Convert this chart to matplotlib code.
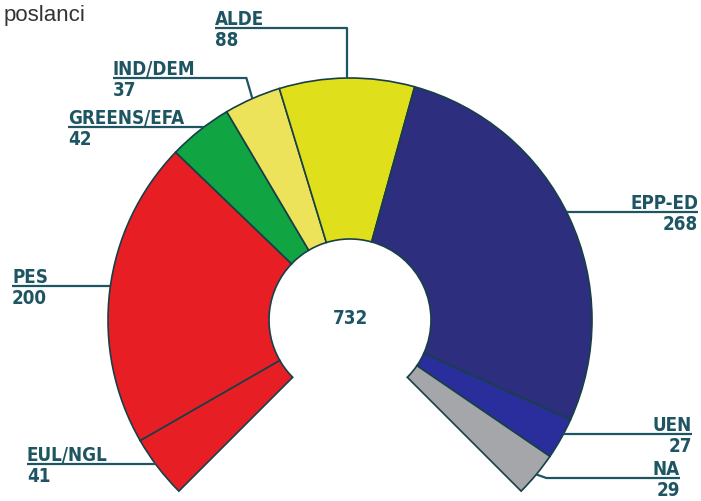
import numpy as np
import matplotlib.pyplot as plt
from matplotlib.patches import Wedge

# seats per group, clockwise from the bottom-left end of the arc
groups = ['EUL/NGL', 'PES', 'GREENS/EFA', 'IND/DEM', 'ALDE', 'EPP-ED', 'UEN', 'NA']
seats = [41, 200, 42, 37, 88, 268, 27, 29]
colors = ['#e81e25', '#e81e25', '#10a443', '#ece35a', '#dfe01b', '#2e2e7f', '#2a2e9c', '#a4a6a9']
title = 'poslanci'

W, H = 701, 502
cx, cy = 350, H - 321
r_out, r_in = 242, 81
start, span = 225, 270

txt_col = '#1e5563'
edge_col = '#173f48'

# label layout in pixels from the top: text x, line y, side, route, elbow dx
label_pos = {
    'EUL/NGL': (27, 465, 'left', 'h', 0),
    'PES': (12, 287, 'left', 'h', 0),
    'GREENS/EFA': (68, 128, 'left', 'h', 0),
    'IND/DEM': (113, 79, 'left', 'd', -6),
    'ALDE': (215, 29, 'left', 'd', 0),
    'EPP-ED': (698, 213, 'right', 'h', 0),
    'UEN': (692, 435, 'right', 'h', 0),
    'NA': (680, 479, 'right', 'd', 10),
}

fig = plt.figure(figsize=(7.01, 5.02), dpi=100)
ax = fig.add_axes([0, 0, 1, 1])
ax.set_xlim(0, W)
ax.set_ylim(0, H)
ax.set_aspect('equal')
ax.axis('off')

total = sum(seats)
cum = np.concatenate([[0], np.cumsum(seats)])
font = dict(family='DejaVu Sans', fontweight='bold', fontstretch='condensed', fontsize=13.5, color=txt_col)

for i, g in enumerate(groups):
    a1 = start - span * cum[i] / total
    a2 = start - span * cum[i + 1] / total
    ax.add_patch(Wedge((cx, cy), r_out, a2, a1, width=r_out - r_in,
                       facecolor=colors[i], edgecolor=edge_col, lw=1.2))

    tx, ly, side, route, edx = label_pos[g]
    y = H - ly
    if route == 'h':
        dx = np.sqrt(r_out ** 2 - (y - cy) ** 2)
        px = cx - dx if side == 'left' else cx + dx
        xs, ys = [px, tx], [y, y]
    else:
        mid = np.radians((a1 + a2) / 2)
        px, py = cx + r_out * np.cos(mid), cy + r_out * np.sin(mid)
        xs, ys = [px, px + edx, tx], [py, y, y]
    ax.plot(xs, ys, color=txt_col, lw=1.6, solid_capstyle='butt')

    ha = 'left' if side == 'left' else 'right'
    ax.text(tx, y + 4, g, ha=ha, va='baseline', **font)
    ax.text(tx, y - 2, str(seats[i]), ha=ha, va='top', **font)

ax.text(cx, cy + 3, str(total), ha='center', va='center', **font)
ax.text(4, H - 21, title, ha='left', va='baseline', fontsize=16,
        family=['Liberation Sans Narrow', 'Liberation Sans'], color='#333333')

fig.savefig('out.png', dpi=100)
